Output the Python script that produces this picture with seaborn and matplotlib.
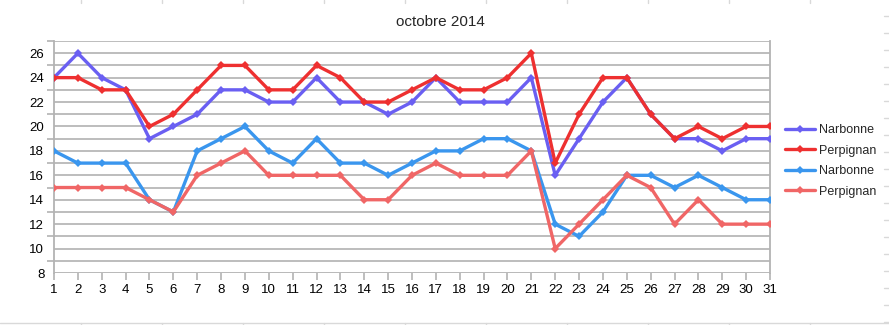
import numpy as np
import pandas as pd
import matplotlib
matplotlib.use("Agg")
import matplotlib.pyplot as plt
from matplotlib.lines import Line2D
from matplotlib.ticker import MultipleLocator
import seaborn as sns

days = list(range(1, 32))

narbonne_max = [24, 26, 24, 23, 19, 20, 21, 23, 23, 22, 22, 24, 22, 22, 21, 22,
                24, 22, 22, 22, 24, 16, 19, 22, 24, 21, 19, 19, 18, 19, 19]
perpignan_max = [24, 24, 23, 23, 20, 21, 23, 25, 25, 23, 23, 25, 24, 22, 22, 23,
                 24, 23, 23, 24, 26, 17, 21, 24, 24, 21, 19, 20, 19, 20, 20]
narbonne_min = [18, 17, 17, 17, 14, 13, 18, 19, 20, 18, 17, 19, 17, 17, 16, 17,
                18, 18, 19, 19, 18, 12, 11, 13, 16, 16, 15, 16, 15, 14, 14]
perpignan_min = [15, 15, 15, 15, 14, 13, 16, 17, 18, 16, 16, 16, 16, 14, 14, 16,
                 17, 16, 16, 16, 18, 10, 12, 14, 16, 15, 12, 14, 12, 12, 12]

series_labels = ["Narbonne", "Perpignan", "Narbonne", "Perpignan"]
series_values = [narbonne_max, perpignan_max, narbonne_min, perpignan_min]
series_colors = ["#6a5ff2", "#ee3030", "#3a96ee", "#f06666"]

title = "octobre 2014"

sns.set_theme(style="white")
plt.rcParams["font.family"] = ["Liberation Sans", "DejaVu Sans"]

fig = plt.figure(figsize=(8.89, 3.25), dpi=100)
ax = fig.add_axes([54 / 889, 1 - 273 / 325, (770 - 54) / 889, (273 - 41) / 325])

for lab, vals, col in zip(series_labels, series_values, series_colors):
    df = pd.DataFrame({"jour": days, "temp": vals})
    sns.lineplot(data=df, x="jour", y="temp", ax=ax, color=col, linewidth=2.4,
                 marker="D", markersize=4, markeredgewidth=0, label=lab,
                 zorder=3)

ax.set_xlim(1, 31)
ax.set_ylim(8, 27)
ax.set_xticks(days)
ax.set_xticklabels([str(d) for d in days])
ax.set_yticks(range(8, 27, 2))
ax.yaxis.set_minor_locator(MultipleLocator(1))
ax.set_xlabel("")
ax.set_ylabel("")

ax.grid(False)
for y in range(9, 28):
    ax.axhline(y, color="#b8b8b8", linewidth=1.3, zorder=1)

for side in ["top", "bottom"]:
    ax.spines[side].set_visible(False)
ax.spines["left"].set_color("#b3b3b3")
ax.spines["right"].set_color("#b3b3b3")
ax.spines["left"].set_linewidth(1.3)
ax.spines["right"].set_linewidth(1.3)
ax.axhline(8, color="#b3b3b3", linewidth=1.3, zorder=1)

ax.tick_params(axis="both", which="both", direction="out", colors="#b3b3b3",
               labelcolor="black", labelsize=9.5, width=1.2)
ax.tick_params(axis="y", which="major", length=5, pad=2)
ax.tick_params(axis="y", which="minor", length=5, left=True)
ax.tick_params(axis="x", which="major", length=5, pad=3, bottom=True)

fig.text(0.495, 1 - 22 / 325, title, ha="center", va="center", fontsize=11)

handles, labels = ax.get_legend_handles_labels()
ax.legend(handles, labels, loc="center left", bbox_to_anchor=(780 / 889, 1 - 161 / 325),
          bbox_transform=fig.transFigure, frameon=False, fontsize=9,
          handlelength=2.4, handletextpad=0.3, labelspacing=0.68, borderaxespad=0)

# faint sheet cell borders around the chart frame
cell = "#d9d9d9"
for x in range(81, 889, 81):
    fig.add_artist(Line2D([x / 889, x / 889], [1 - 3 / 325, 1], color=cell, lw=1,
                          transform=fig.transFigure))
    fig.add_artist(Line2D([x / 889, x / 889], [0, 2 / 325], color=cell, lw=1,
                          transform=fig.transFigure))
fig.add_artist(Line2D([0, 1], [2 / 325, 2 / 325], color=cell, lw=1,
                      transform=fig.transFigure))
for y in range(16, 325, 17):
    fig.add_artist(Line2D([884 / 889, 1], [1 - y / 325, 1 - y / 325], color=cell, lw=1,
                          transform=fig.transFigure))

fig.savefig("out.png", dpi=100)
